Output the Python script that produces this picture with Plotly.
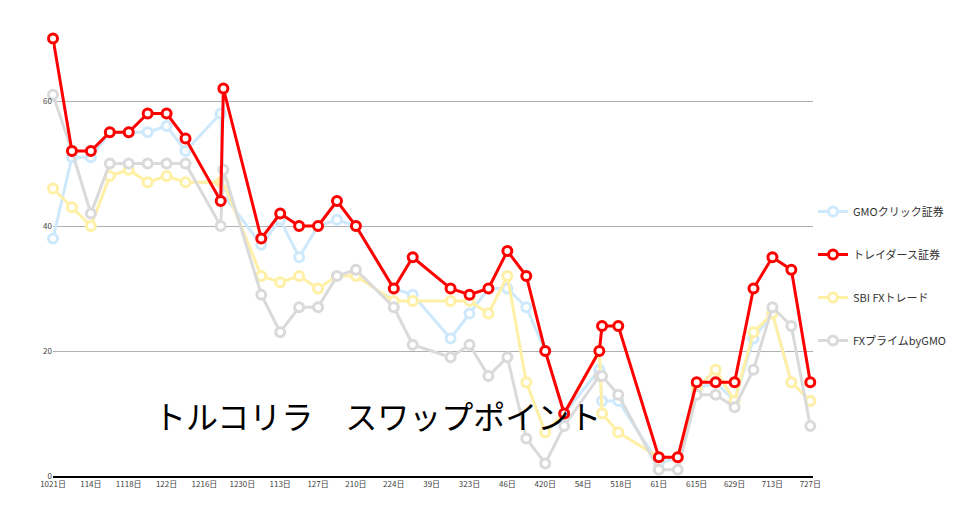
import plotly.graph_objects as go

dates = ['2019-10-21', '2019-10-28', '2019-11-04', '2019-11-11', '2019-11-18', '2019-11-25',
         '2019-12-02', '2019-12-09', '2019-12-22', '2019-12-23', '2020-01-06', '2020-01-13',
         '2020-01-20', '2020-01-27', '2020-02-03', '2020-02-10', '2020-02-24', '2020-03-02',
         '2020-03-16', '2020-03-23', '2020-03-30', '2020-04-06', '2020-04-13', '2020-04-20',
         '2020-04-27', '2020-05-10', '2020-05-11', '2020-05-17', '2020-06-01', '2020-06-08',
         '2020-06-15', '2020-06-22', '2020-06-29', '2020-07-06', '2020-07-13', '2020-07-20',
         '2020-07-27']

gmo_click = [38, 51, 51, 55, 55, 55, 56, 52, 58, 45, 37, 41, 35, 40, 41, 40, 30, 29,
             22, 26, 30, 30, 27, 20, 10, 17, 12, 12, 2, 3, 14, 15, 12, 22, 26, 15, 12]
traders = [70, 52, 52, 55, 55, 58, 58, 54, 44, 62, 38, 42, 40, 40, 44, 40, 30, 35,
           30, 29, 30, 36, 32, 20, 10, 20, 24, 24, 3, 3, 15, 15, 15, 30, 35, 33, 15]
sbi_fx = [46, 43, 40, 48, 49, 47, 48, 47, 47, 47, 32, 31, 32, 30, 32, 32, 28, 28,
          28, 28, 26, 32, 15, 7, 10, 20, 10, 7, 3, 3, 14, 17, 12, 23, 26, 15, 12]
fx_prime = [61, 52, 42, 50, 50, 50, 50, 50, 40, 49, 29, 23, 27, 27, 32, 33, 27, 21,
            19, 21, 16, 19, 6, 2, 8, 16, 16, 13, 1, 1, 13, 13, 11, 17, 27, 24, 8]

tick_dates = ['2019-10-21', '2019-11-04', '2019-11-18', '2019-12-02', '2019-12-16', '2019-12-30',
              '2020-01-13', '2020-01-27', '2020-02-10', '2020-02-24', '2020-03-09', '2020-03-23',
              '2020-04-06', '2020-04-20', '2020-05-04', '2020-05-18', '2020-06-01', '2020-06-15',
              '2020-06-29', '2020-07-13', '2020-07-27']
tick_labels = ['1021日', '114日', '1118日', '122日', '1216日', '1230日', '113日', '127日',
               '210日', '224日', '39日', '323日', '46日', '420日', '54日', '518日', '61日',
               '615日', '629日', '713日', '727日']

series = [
    ('GMOクリック証券', gmo_click, '#cde9fb', 1),
    ('SBI FXトレード', sbi_fx, '#fff0a6', 3),
    ('FXプライムbyGMO', fx_prime, '#dadada', 4),
    ('トレイダース証券', traders, '#ff0000', 2),
]

fig = go.Figure()
for name, vals, color, rank in series:
    fig.add_trace(go.Scatter(
        x=dates, y=vals, name=name, mode='lines+markers',
        legendrank=rank, legendgroup=name, cliponaxis=False,
        line=dict(color=color, width=3),
        marker=dict(symbol='circle', size=9, color='white',
                    line=dict(color=color, width=3))
    ))

fig.add_annotation(
    text='トルコリラ　スワップポイント', xref='paper', yref='paper',
    x=0.13, y=0.135, xanchor='left', yanchor='middle', showarrow=False,
    font=dict(family='Noto Sans CJK JP', size=32, color='black')
)

fig.update_layout(
    width=970, height=515,
    paper_bgcolor='white', plot_bgcolor='white',
    margin=dict(l=45, r=165, t=18, b=47, autoexpand=False),
    font=dict(family='Noto Sans CJK JP', color='#404040'),
    legend=dict(x=1.0, y=0.62, xanchor='left', yanchor='top',
                font=dict(size=11, color='#333333'), tracegroupgap=24,
                itemwidth=30),
    xaxis=dict(
        range=['2019-10-21', '2020-07-28'], automargin=False,
        tickvals=tick_dates, ticktext=tick_labels,
        tickfont=dict(size=8, color='#404040'),
        showgrid=False, showline=True, linecolor='black', linewidth=1.5,
        ticks=''
    ),
    yaxis=dict(
        range=[0, 72], tickvals=[0, 20, 40, 60], automargin=False,
        tickfont=dict(size=8, color='#404040'),
        gridcolor='#b0b0b0', gridwidth=1, zeroline=False
    )
)

fig.write_html('out.html')
